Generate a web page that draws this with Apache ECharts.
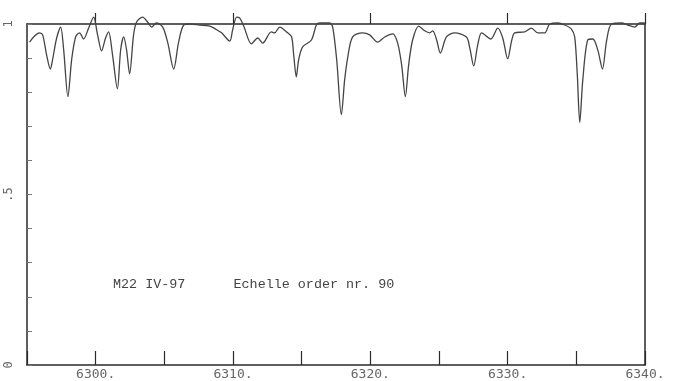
<!DOCTYPE html>
<html>
<head>
<meta charset="utf-8">
<script src="https://cdn.jsdelivr.net/npm/echarts@6/dist/echarts.min.js"></script>
<style>
  html, body { margin: 0; padding: 0; background: #fff; }
  #container { width: 685px; height: 381px; }
</style>
</head>
<body>
<div id="container"></div>
<script>
// wavelength (Angstrom) and normalised flux
var wave = [6295.19, 6295.55, 6295.92, 6296.14, 6296.43, 6296.70, 6296.86, 6297.16, 6297.45, 6297.67,
    6297.98, 6298.25, 6298.54, 6298.83, 6299.12, 6299.49, 6299.85, 6300.14, 6300.43, 6300.72,
    6300.94, 6301.23, 6301.58, 6301.82, 6302.04, 6302.25, 6302.47, 6302.76, 6302.98, 6303.42,
    6303.78, 6304.08, 6304.42, 6304.88, 6305.24, 6305.68, 6306.04, 6306.41, 6306.84, 6307.57,
    6308.30, 6308.74, 6309.17, 6309.76, 6309.97, 6310.27, 6310.48, 6310.78, 6311.34, 6311.80,
    6312.16, 6312.79, 6313.03, 6313.40, 6313.98, 6314.27, 6314.42, 6314.61, 6314.78, 6315.07,
    6315.71, 6316.07, 6316.31, 6317.04, 6317.26, 6317.55, 6317.89, 6318.13, 6318.35, 6318.71,
    6319.44, 6319.95, 6320.54, 6321.05, 6321.63, 6321.99, 6322.28, 6322.55, 6322.79, 6323.08,
    6323.52, 6323.96, 6324.32, 6324.54, 6324.83, 6325.10, 6325.54, 6326.14, 6327.00, 6327.24,
    6327.53, 6327.82, 6328.11, 6328.77, 6329.28, 6329.64, 6330.00, 6330.30, 6330.51, 6331.24,
    6331.73, 6332.19, 6332.70, 6333.06, 6333.65, 6334.16, 6334.64, 6334.88, 6335.07, 6335.25,
    6335.47, 6335.83, 6336.20, 6336.56, 6336.90, 6337.21, 6337.56, 6338.29, 6338.74, 6339.25,
    6339.62, 6339.98];

var flux = [0.947, 0.965, 0.974, 0.968, 0.909, 0.868, 0.895, 0.959, 0.991, 0.924,
    0.787, 0.895, 0.962, 0.974, 0.956, 0.988, 1.020, 0.968, 0.921, 0.959,
    0.977, 0.909, 0.810, 0.924, 0.962, 0.924, 0.854, 0.968, 1.006, 1.020,
    1.006, 0.991, 1.003, 0.991, 0.947, 0.868, 0.947, 0.997, 1.000, 0.997,
    0.994, 0.985, 0.974, 0.950, 0.982, 1.020, 1.018, 0.994, 0.942, 0.959,
    0.944, 0.977, 0.974, 0.991, 0.974, 0.962, 0.909, 0.845, 0.895, 0.933,
    0.953, 0.997, 1.003, 1.003, 0.991, 0.895, 0.734, 0.836, 0.901, 0.962,
    0.974, 0.968, 0.947, 0.962, 0.971, 0.944, 0.880, 0.787, 0.880, 0.953,
    0.994, 0.980, 0.974, 0.980, 0.953, 0.915, 0.962, 0.974, 0.962, 0.930,
    0.877, 0.939, 0.974, 0.956, 0.988, 0.959, 0.898, 0.953, 0.974, 0.977,
    0.988, 0.974, 0.974, 1.000, 1.003, 0.997, 0.985, 0.962, 0.851, 0.711,
    0.836, 0.953, 0.956, 0.924, 0.868, 0.953, 1.000, 1.003, 0.997, 0.991,
    1.003, 1.003];

var topTicks = [6300, 6310, 6320, 6330, 6340];
var yLabels = {0: '0', 0.5: '.5', 1: '1'};

var axisColor = '#2a2a2a';
var textColor = '#666';

var points = [];
for (var i = 0; i < wave.length; i++) {
    points.push([wave[i], flux[i]]);
}

var option = {
    animation: false,
    backgroundColor: '#fff',
    grid: {
        left: 27,
        right: 40,
        top: 24,
        bottom: 15
    },
    xAxis: [{
        type: 'value',
        position: 'bottom',
        min: 6295,
        max: 6340,
        interval: 5,
        splitLine: {show: false},
        axisLine: {onZero: false, lineStyle: {color: axisColor, width: 1.5}},
        axisTick: {inside: true, length: 14, lineStyle: {color: axisColor, width: 1.2}},
        axisLabel: {
            color: textColor,
            fontFamily: 'DejaVu Sans Mono',
            fontSize: 13,
            margin: 3,
            formatter: function (v) {
                return (v % 10 === 0) ? v + '.' : '';
            }
        }
    }, {
        // top line = continuum 1.0, ticks every 10 A pointing up
        type: 'value',
        position: 'top',
        min: 6295,
        max: 6340,
        splitLine: {show: false},
        axisLine: {onZero: false, lineStyle: {color: axisColor, width: 1.5}},
        axisTick: {
            show: true,
            inside: false,
            length: 11,
            customValues: topTicks,
            lineStyle: {color: axisColor, width: 1.2}
        },
        axisLabel: {show: false}
    }],
    yAxis: [{
        type: 'value',
        position: 'left',
        min: 0,
        max: 1,
        interval: 0.1,
        splitLine: {show: false},
        axisLine: {onZero: false, lineStyle: {color: axisColor, width: 1.5}},
        axisTick: {inside: true, length: 5, lineStyle: {color: '#777', width: 1}},
        axisLabel: {
            color: textColor,
            fontFamily: 'DejaVu Sans Mono',
            fontSize: 12,
            rotate: 90,
            margin: 12,
            formatter: function (v) {
                var k = Math.round(v * 10) / 10;
                return yLabels[k] !== undefined ? yLabels[k] : '';
            }
        }
    }, {
        type: 'value',
        position: 'right',
        min: 0,
        max: 1,
        splitLine: {show: false},
        axisLine: {show: true, onZero: false, lineStyle: {color: axisColor, width: 1.5}},
        axisTick: {show: false},
        axisLabel: {show: false}
    }],
    graphic: [{
        type: 'text',
        left: 113,
        top: 278,
        style: {
            text: 'M22 IV-97      Echelle order nr. 90',
            fill: '#444',
            font: '13.4px "Liberation Mono"'
        }
    }],
    series: [{
        type: 'line',
        data: points,
        xAxisIndex: 0,
        yAxisIndex: 0,
        smooth: 0.3,
        symbol: 'none',
        clip: false,
        lineStyle: {color: '#444', width: 1.3}
    }]
};

var myChart = echarts.init(document.getElementById('container'));
myChart.setOption(option);
</script>
</body>
</html>
